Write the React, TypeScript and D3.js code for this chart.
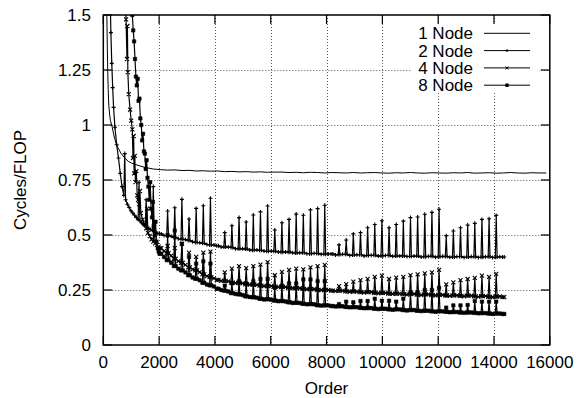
import React from 'react';
import * as d3 from 'd3';

const xTickValues = [0, 2000, 4000, 6000, 8000, 10000, 12000, 14000, 16000];
const xTickLabels = ['0', '2000', '4000', '6000', '8000', '10000', '12000', '14000', '16000'];
const yTickValues = [0, 0.25, 0.5, 0.75, 1, 1.25, 1.5];
const yTickLabels = ['0', '0.25', '0.5', '0.75', '1', '1.25', '1.5'];
const seriesNames = ['1 Node', '2 Node', '4 Node', '8 Node'];
const xLabel = 'Order';
const yLabel = 'Cycles/FLOP';

// 1 Node
const node1EarlyOrders = [112, 128, 144, 160, 176, 192, 224, 256, 320, 384, 448, 512, 640, 768, 896, 1024, 1280, 1536, 1792];
const node1EarlyValues = [1.75, 1.5, 1.35, 1.24, 1.16, 1.1, 1.05, 1.02, 0.99, 0.95, 0.92, 0.9, 0.87, 0.85, 0.835, 0.826, 0.815, 0.806, 0.8];
const node1Orders = d3.range(2048, 15873, 256);
const node1Values = [
  0.797, 0.795, 0.796, 0.793, 0.794, 0.791, 0.792, 0.79, 0.791, 0.788,
  0.789, 0.787, 0.788, 0.786, 0.787, 0.785, 0.786, 0.786, 0.784, 0.785,
  0.783, 0.785, 0.784, 0.782, 0.784, 0.783, 0.782, 0.784, 0.782, 0.783,
  0.784, 0.782, 0.781, 0.783, 0.782, 0.784, 0.782, 0.781, 0.783, 0.782,
  0.781, 0.783, 0.782, 0.784, 0.781, 0.782, 0.783, 0.781, 0.782, 0.784,
  0.782, 0.781, 0.783, 0.782, 0.782,
];

// orders of the regular part (multiples of 256)
const stepOrders = d3.range(2048, 14337, 256);

// 2 Node
const node2EarlyOrders = [240, 272, 304, 336, 368, 416, 480, 544, 608, 672, 736, 768, 800, 864, 928, 992, 1056, 1120, 1184, 1248, 1280, 1312, 1376, 1440, 1504, 1536, 1568, 1632, 1696, 1760, 1792, 1824, 1888, 1952];
const node2EarlyValues = [1.62, 1.42, 1.28, 1.17, 1.08, 0.99, 0.91, 0.85, 0.78, 0.72, 0.68, 0.87, 0.66, 0.64, 0.625, 0.61, 0.6, 0.59, 0.58, 0.57, 0.74, 0.565, 0.555, 0.548, 0.54, 0.66, 0.535, 0.53, 0.525, 0.52, 0.72, 0.517, 0.512, 0.508];
const node2Base = [
  0.505, 0.497, 0.489, 0.481, 0.475, 0.466, 0.462, 0.455, 0.451, 0.445,
  0.443, 0.437, 0.436, 0.431, 0.431, 0.426, 0.426, 0.422, 0.422, 0.418,
  0.419, 0.415, 0.416, 0.413, 0.414, 0.411, 0.412, 0.409, 0.41, 0.407,
  0.408, 0.405, 0.407, 0.404, 0.405, 0.403, 0.404, 0.401, 0.403, 0.401,
  0.402, 0.4, 0.402, 0.4, 0.401, 0.399, 0.401, 0.399, 0.4,
];
const node2Mid = [
  0.498, 0.494, 0.483, 0.479, 0.469, 0.465, 0.457, 0.454, 0.446, 0.446,
  0.438, 0.438, 0.432, 0.432, 0.427, 0.427, 0.423, 0.423, 0.419, 0.419,
  0.415, 0.417, 0.412, 0.414, 0.409, 0.412, 0.407, 0.41, 0.405, 0.408,
  0.404, 0.407, 0.403, 0.405, 0.402, 0.404, 0.4, 0.403, 0.399, 0.403,
  0.399, 0.402, 0.398, 0.402, 0.398, 0.401, 0.398, 0.401,
];
const node2Peak = [
  null, 0.609, 0.624, 0.662, 0.573, 0.621, 0.633, 0.667, null,
  0.511, 0.542, 0.579, 0.559, 0.591, 0.605, 0.632, 0.523, 0.556, 0.571, 0.595, 0.59, 0.614, 0.62, 0.635, null,
  0.455, 0.477, 0.505, 0.511, 0.533, 0.548, 0.565, 0.533, 0.548, 0.563, 0.579, 0.582, 0.594, 0.603, 0.617,
  0.497, 0.518, 0.533, 0.545, 0.553, 0.571, 0.574, 0.589, null,
];

// 4 Node
const node4EarlyOrders = [784, 816, 848, 864, 880, 912, 960, 1000, 1040, 1064, 1088, 1104, 1128, 1152, 1184, 1216, 1248, 1280, 1312, 1344, 1408, 1472, 1536, 1568, 1600, 1664, 1728, 1792, 1824, 1856, 1920, 1984];
const node4EarlyValues = [1.6, 1.48, 1.3, 1.45, 1.24, 1.14, 1.07, 1.02, 0.98, 0.85, 0.95, 0.78, 0.86, 0.74, 0.79, 0.68, 0.66, 0.64, 0.7, 0.6, 0.57, 0.55, 0.53, 0.62, 0.51, 0.495, 0.48, 0.47, 0.55, 0.462, 0.455, 0.447];
const node4Base = [
  0.44, 0.417, 0.392, 0.373, 0.353, 0.339, 0.321, 0.309, 0.296, 0.291,
  0.284, 0.282, 0.276, 0.275, 0.27, 0.269, 0.265, 0.264, 0.26, 0.259,
  0.255, 0.255, 0.251, 0.251, 0.247, 0.247, 0.244, 0.244, 0.24, 0.24,
  0.237, 0.237, 0.234, 0.234, 0.231, 0.232, 0.229, 0.23, 0.227, 0.228,
  0.225, 0.226, 0.223, 0.224, 0.221, 0.222, 0.219, 0.22, 0.218,
];
const node4Mid = [
  0.427, 0.406, 0.381, 0.364, 0.344, 0.331, 0.313, 0.303, 0.291, 0.289,
  0.281, 0.28, 0.274, 0.273, 0.268, 0.268, 0.263, 0.263, 0.258, 0.258,
  0.253, 0.254, 0.249, 0.25, 0.245, 0.247, 0.242, 0.243, 0.238, 0.24,
  0.235, 0.237, 0.232, 0.234, 0.229, 0.232, 0.227, 0.23, 0.225, 0.228,
  0.223, 0.226, 0.221, 0.224, 0.219, 0.222, 0.217, 0.221,
];
const node4Peak = [
  null, 0.45, 0.44, 0.46, 0.42, 0.401, 0.42, 0.424, null,
  0.33, 0.347, 0.359, 0.349, 0.359, 0.365, 0.377, 0.317, 0.332, 0.341, 0.347, 0.344, 0.353, 0.359, 0.364, null,
  0.268, 0.277, 0.288, 0.295, 0.301, 0.31, 0.315, 0.3, 0.306, 0.31, 0.318, 0.321, 0.326, 0.33, 0.341,
  0.276, 0.285, 0.295, 0.3, 0.305, 0.315, 0.31, 0.323, null,
];

// 8 Node
const node8EarlyOrders = [1008, 1040, 1072, 1104, 1136, 1168, 1200, 1232, 1264, 1296, 1328, 1360, 1392, 1424, 1456, 1488, 1520, 1552, 1584, 1616, 1648, 1680, 1712, 1744, 1776, 1808, 1840, 1872, 1904, 1952, 1984];
const node8EarlyValues = [1.62, 1.5, 1.43, 1.38, 1.3, 1.22, 1.18, 1.21, 1.11, 1.12, 1.03, 1.0, 0.93, 0.96, 0.88, 0.87, 0.8, 0.84, 0.76, 0.72, 0.66, 0.74, 0.62, 0.58, 0.65, 0.54, 0.5, 0.56, 0.47, 0.44, 0.425];
const node8Base = [
  0.415, 0.386, 0.359, 0.339, 0.317, 0.301, 0.283, 0.271, 0.256, 0.247,
  0.236, 0.23, 0.221, 0.217, 0.21, 0.208, 0.202, 0.2, 0.194, 0.192,
  0.187, 0.186, 0.181, 0.18, 0.177, 0.176, 0.173, 0.172, 0.169, 0.168,
  0.165, 0.165, 0.162, 0.162, 0.159, 0.159, 0.156, 0.156, 0.153, 0.153,
  0.151, 0.15, 0.148, 0.148, 0.146, 0.145, 0.143, 0.143, 0.141,
];
const node8Mid = [
  0.4, 0.374, 0.347, 0.33, 0.307, 0.294, 0.275, 0.266, 0.25, 0.243,
  0.232, 0.227, 0.218, 0.215, 0.207, 0.206, 0.199, 0.198, 0.191, 0.191,
  0.185, 0.185, 0.179, 0.18, 0.175, 0.176, 0.171, 0.172, 0.167, 0.168,
  0.163, 0.165, 0.16, 0.162, 0.157, 0.159, 0.154, 0.156, 0.151, 0.153,
  0.149, 0.15, 0.146, 0.148, 0.144, 0.145, 0.141, 0.143,
];
const node8Peak = [
  null, 0.5, 0.52, 0.46, 0.4, 0.37, 0.38, 0.37, null,
  0.27, 0.28, 0.29, 0.28, 0.29, 0.3, 0.3, 0.26, 0.27, 0.28, 0.28, 0.298, 0.298, 0.29, 0.29, null,
  0.186, 0.197, 0.194, 0.2, 0.2, 0.21, 0.201, 0.201, 0.197, 0.21, 0.24, 0.24, 0.25, 0.25, 0.26,
  0.17, 0.18, 0.18, 0.182, 0.2, 0.197, 0.197, 0.197, null,
];

type Pt = [number, number];

function buildSpiky(earlyO: number[], earlyV: number[], base: number[], mid: number[], peak: (number | null)[]): Pt[] {
  const pts: Pt[] = earlyO.map((o, i) => [o, earlyV[i]] as Pt);
  stepOrders.forEach((o, i) => {
    pts.push([o - 32, base[i]]);
    const p = peak[i];
    if (p != null) pts.push([o, p]);
    pts.push([o + 32, base[i]]);
    if (i < mid.length) pts.push([o + 128, mid[i]]);
  });
  return pts;
}

const FONT = "'Liberation Sans', Arial, Helvetica, sans-serif";

function markerPath(kind: string, cx: number, cy: number, s: number): string {
  if (kind === 'plus') return `M${cx - s},${cy}h${2 * s}M${cx},${cy - s}v${2 * s}`;
  if (kind === 'cross') return `M${cx - s},${cy - s}l${2 * s},${2 * s}M${cx - s},${cy + s}l${2 * s},${-2 * s}`;
  if (kind === 'square') {
    const h = s * 0.85;
    return `M${cx - h},${cy - h}h${2 * h}v${2 * h}h${-2 * h}Z`;
  }
  return '';
}

export default function App() {
  const left = 103.3, right = 549.8, top = 15, bottom = 345;
  const x = d3.scaleLinear().domain([0, 16000]).range([left, right]);
  const y = d3.scaleLinear().domain([0, 1.5]).range([bottom, top]);
  const line = d3.line<Pt>().x((d) => x(d[0])).y((d) => y(d[1]));

  const s1: Pt[] = [
    ...node1EarlyOrders.map((o, i) => [o, node1EarlyValues[i]] as Pt),
    ...node1Orders.map((o, i) => [o, node1Values[i]] as Pt),
  ];
  const s2 = buildSpiky(node2EarlyOrders, node2EarlyValues, node2Base, node2Mid, node2Peak);
  const s4 = buildSpiky(node4EarlyOrders, node4EarlyValues, node4Base, node4Mid, node4Peak);
  const s8 = buildSpiky(node8EarlyOrders, node8EarlyValues, node8Base, node8Mid, node8Peak);

  const series = [
    { name: seriesNames[0], pts: s1, marker: '' },
    { name: seriesNames[1], pts: s2, marker: 'plus' },
    { name: seriesNames[2], pts: s4, marker: 'cross' },
    { name: seriesNames[3], pts: s8, marker: 'square' },
  ];

  const tickLen = 9;
  const gridColor = '#555';
  const legendX = 473, legendLineX1 = 484, legendLineX2 = 530;
  const legendY0 = 33.3, legendDy = 17.3;

  return (
    <svg width={578} height={398} style={{ position: 'absolute', left: 0, top: 0, background: '#fff' }}>
      <defs>
        <clipPath id="plotClip">
          <rect x={left} y={top} width={right - left} height={bottom - top} />
        </clipPath>
      </defs>
      <rect x={0} y={0} width={578} height={398} fill="#fff" />
      {/* grid */}
      <g stroke={gridColor} strokeWidth={1} strokeDasharray="1,2" fill="none">
        {xTickValues.slice(1, -1).map((v) => (
          <line key={'gx' + v} x1={Math.round(x(v)) + 0.5} x2={Math.round(x(v)) + 0.5} y1={top} y2={bottom} />
        ))}
        {yTickValues.slice(1, -1).map((v) => (
          <line key={'gy' + v} x1={left} x2={right} y1={Math.round(y(v)) + 0.5} y2={Math.round(y(v)) + 0.5} />
        ))}
      </g>
      {/* legend background */}
      <rect x={412} y={24} width={127} height={67} fill="#fff" />
      {/* series */}
      <g clipPath="url(#plotClip)">
        {series.map((s) => (
          <g key={s.name}>
            <path d={line(s.pts) || ''} fill="none" stroke="#000" strokeWidth={s.marker ? 1.2 : 1} />
            {s.marker && (
              <path
                d={s.pts.map((p) => markerPath(s.marker, x(p[0]), y(p[1]), 2)).join('')}
                fill={s.marker === 'square' ? '#000' : 'none'}
                stroke="#000"
                strokeWidth={s.marker === 'square' ? 0.6 : 1.1}
              />
            )}
          </g>
        ))}
      </g>
      {/* ticks */}
      <g stroke="#000" strokeWidth={1.2}>
        {xTickValues.map((v) => (
          <g key={'tx' + v}>
            <line x1={x(v)} x2={x(v)} y1={bottom} y2={bottom - tickLen} />
            <line x1={x(v)} x2={x(v)} y1={top} y2={top + tickLen} />
          </g>
        ))}
        {yTickValues.map((v) => (
          <g key={'ty' + v}>
            <line x1={left} x2={left + tickLen} y1={y(v)} y2={y(v)} />
            <line x1={right} x2={right - tickLen} y1={y(v)} y2={y(v)} />
          </g>
        ))}
      </g>
      {/* border */}
      <rect x={left} y={top} width={right - left} height={bottom - top} fill="none" stroke="#000" strokeWidth={1.5} />
      {/* tick labels */}
      <g fontFamily={FONT} fontSize={17} fill="#000">
        {xTickValues.map((v, i) => (
          <text key={'lx' + v} x={x(v)} y={368} textAnchor="middle">{xTickLabels[i]}</text>
        ))}
        {yTickValues.map((v, i) => (
          <text key={'ly' + v} x={91} y={y(v)} dy="0.36em" textAnchor="end">{yTickLabels[i]}</text>
        ))}
        <text x={(left + right) / 2} y={394} textAnchor="middle">{xLabel}</text>
        <text transform={`translate(26,${(top + bottom) / 2}) rotate(-90)`} textAnchor="middle">{yLabel}</text>
      </g>
      {/* legend */}
      <g fontFamily={FONT} fontSize={17}>
        {series.map((s, i) => {
          const ly = legendY0 + i * legendDy;
          const mx = (legendLineX1 + legendLineX2) / 2;
          return (
            <g key={'lg' + s.name}>
              <text x={legendX} y={ly} dy="0.36em" textAnchor="end" fill="#000">{s.name}</text>
              <line x1={legendLineX1} x2={legendLineX2} y1={ly} y2={ly} stroke="#000" strokeWidth={1} />
              {s.marker && (
                <path
                  d={markerPath(s.marker, mx, ly, 1.5)}
                  fill={s.marker === 'square' ? '#000' : 'none'}
                  stroke="#000"
                  strokeWidth={1}
                />
              )}
            </g>
          );
        })}
      </g>
    </svg>
  );
}
